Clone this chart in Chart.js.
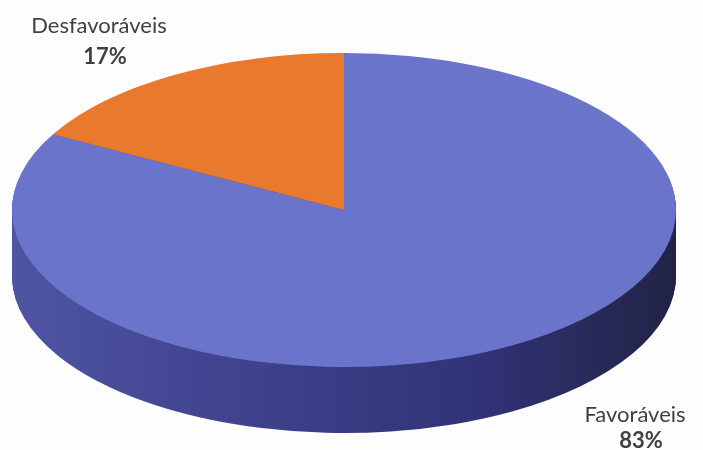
<!DOCTYPE html>
<html>
<head>
<meta charset="utf-8">
<script src="https://cdn.jsdelivr.net/npm/chart.js@4.4.1/dist/chart.umd.min.js"></script>
<style>
  html, body { margin: 0; padding: 0; background: #fdfdfd; }
  #wrap { width: 703px; height: 450px; position: relative; }
</style>
</head>
<body>
<div id="wrap"><canvas id="pie"></canvas></div>
<script>
// opinion split
const categories = ['Favoráveis', 'Desfavoráveis'];
const shares = [83, 17];
const sliceColors = ['#6a74ca', '#e9792d'];

// tilted disc: top face ellipse and wall height
const tilt = { cx: 344, cy: 210, rx: 332, ry: 157, depth: 66 };

// label anchors: center x, baseline of name, gap to the percent line
const labelSpots = [
  { x: 635, y: 422, gap: 26 },
  { x: 99, y: 33, gap: 31 }
];

function applyTilt(ctx, arc, dy) {
  const R = arc.outerRadius;
  ctx.translate(tilt.cx, tilt.cy + dy);
  ctx.scale(tilt.rx / R, tilt.ry / R);
  ctx.translate(-arc.x, -arc.y);
}

const disc3d = {
  id: 'disc3d',
  beforeDatasetsDraw(chart) {
    const ctx = chart.ctx;
    const arcs = chart.getDatasetMeta(0).data;
    const a0 = arcs[0];
    const R = a0.outerRadius;

    // side wall: stack shifted copies of the slices, darker toward the right
    const wall = ctx.createLinearGradient(a0.x - R, 0, a0.x + R, 0);
    wall.addColorStop(0, '#4f55a3');
    wall.addColorStop(0.35, '#3f428d');
    wall.addColorStop(0.7, '#313377');
    wall.addColorStop(1, '#212345');
    for (let dy = tilt.depth; dy > 0; dy--) {
      ctx.save();
      applyTilt(ctx, a0, dy);
      arcs.forEach(a => {
        const keep = a.options.backgroundColor;
        a.options.backgroundColor = wall;
        a.draw(ctx);
        a.options.backgroundColor = keep;
      });
      ctx.restore();
    }

    // top face drawn by the controller under the same squash
    ctx.save();
    applyTilt(ctx, a0, 0);
  },
  afterDatasetsDraw(chart) {
    chart.ctx.restore();
  },
  afterDraw(chart) {
    const ctx = chart.ctx;
    ctx.save();
    ctx.fillStyle = '#404040';
    ctx.textAlign = 'center';
    categories.forEach((name, i) => {
      const spot = labelSpots[i];
      ctx.font = '22px Lato';
      ctx.fillText(name, spot.x, spot.y);
      ctx.font = 'bold 22px Lato';
      ctx.fillText(shares[i] + '%', spot.x + 6, spot.y + spot.gap);
    });
    ctx.restore();
  }
};

new Chart(document.getElementById('pie'), {
  type: 'pie',
  data: {
    labels: categories,
    datasets: [{
      data: shares,
      backgroundColor: sliceColors,
      borderWidth: 0,
      clip: false
    }]
  },
  options: {
    responsive: true,
    maintainAspectRatio: false,
    animation: false,
    events: [],
    plugins: {
      legend: { display: false },
      tooltip: { enabled: false }
    }
  },
  plugins: [disc3d]
});
</script>
</body>
</html>
